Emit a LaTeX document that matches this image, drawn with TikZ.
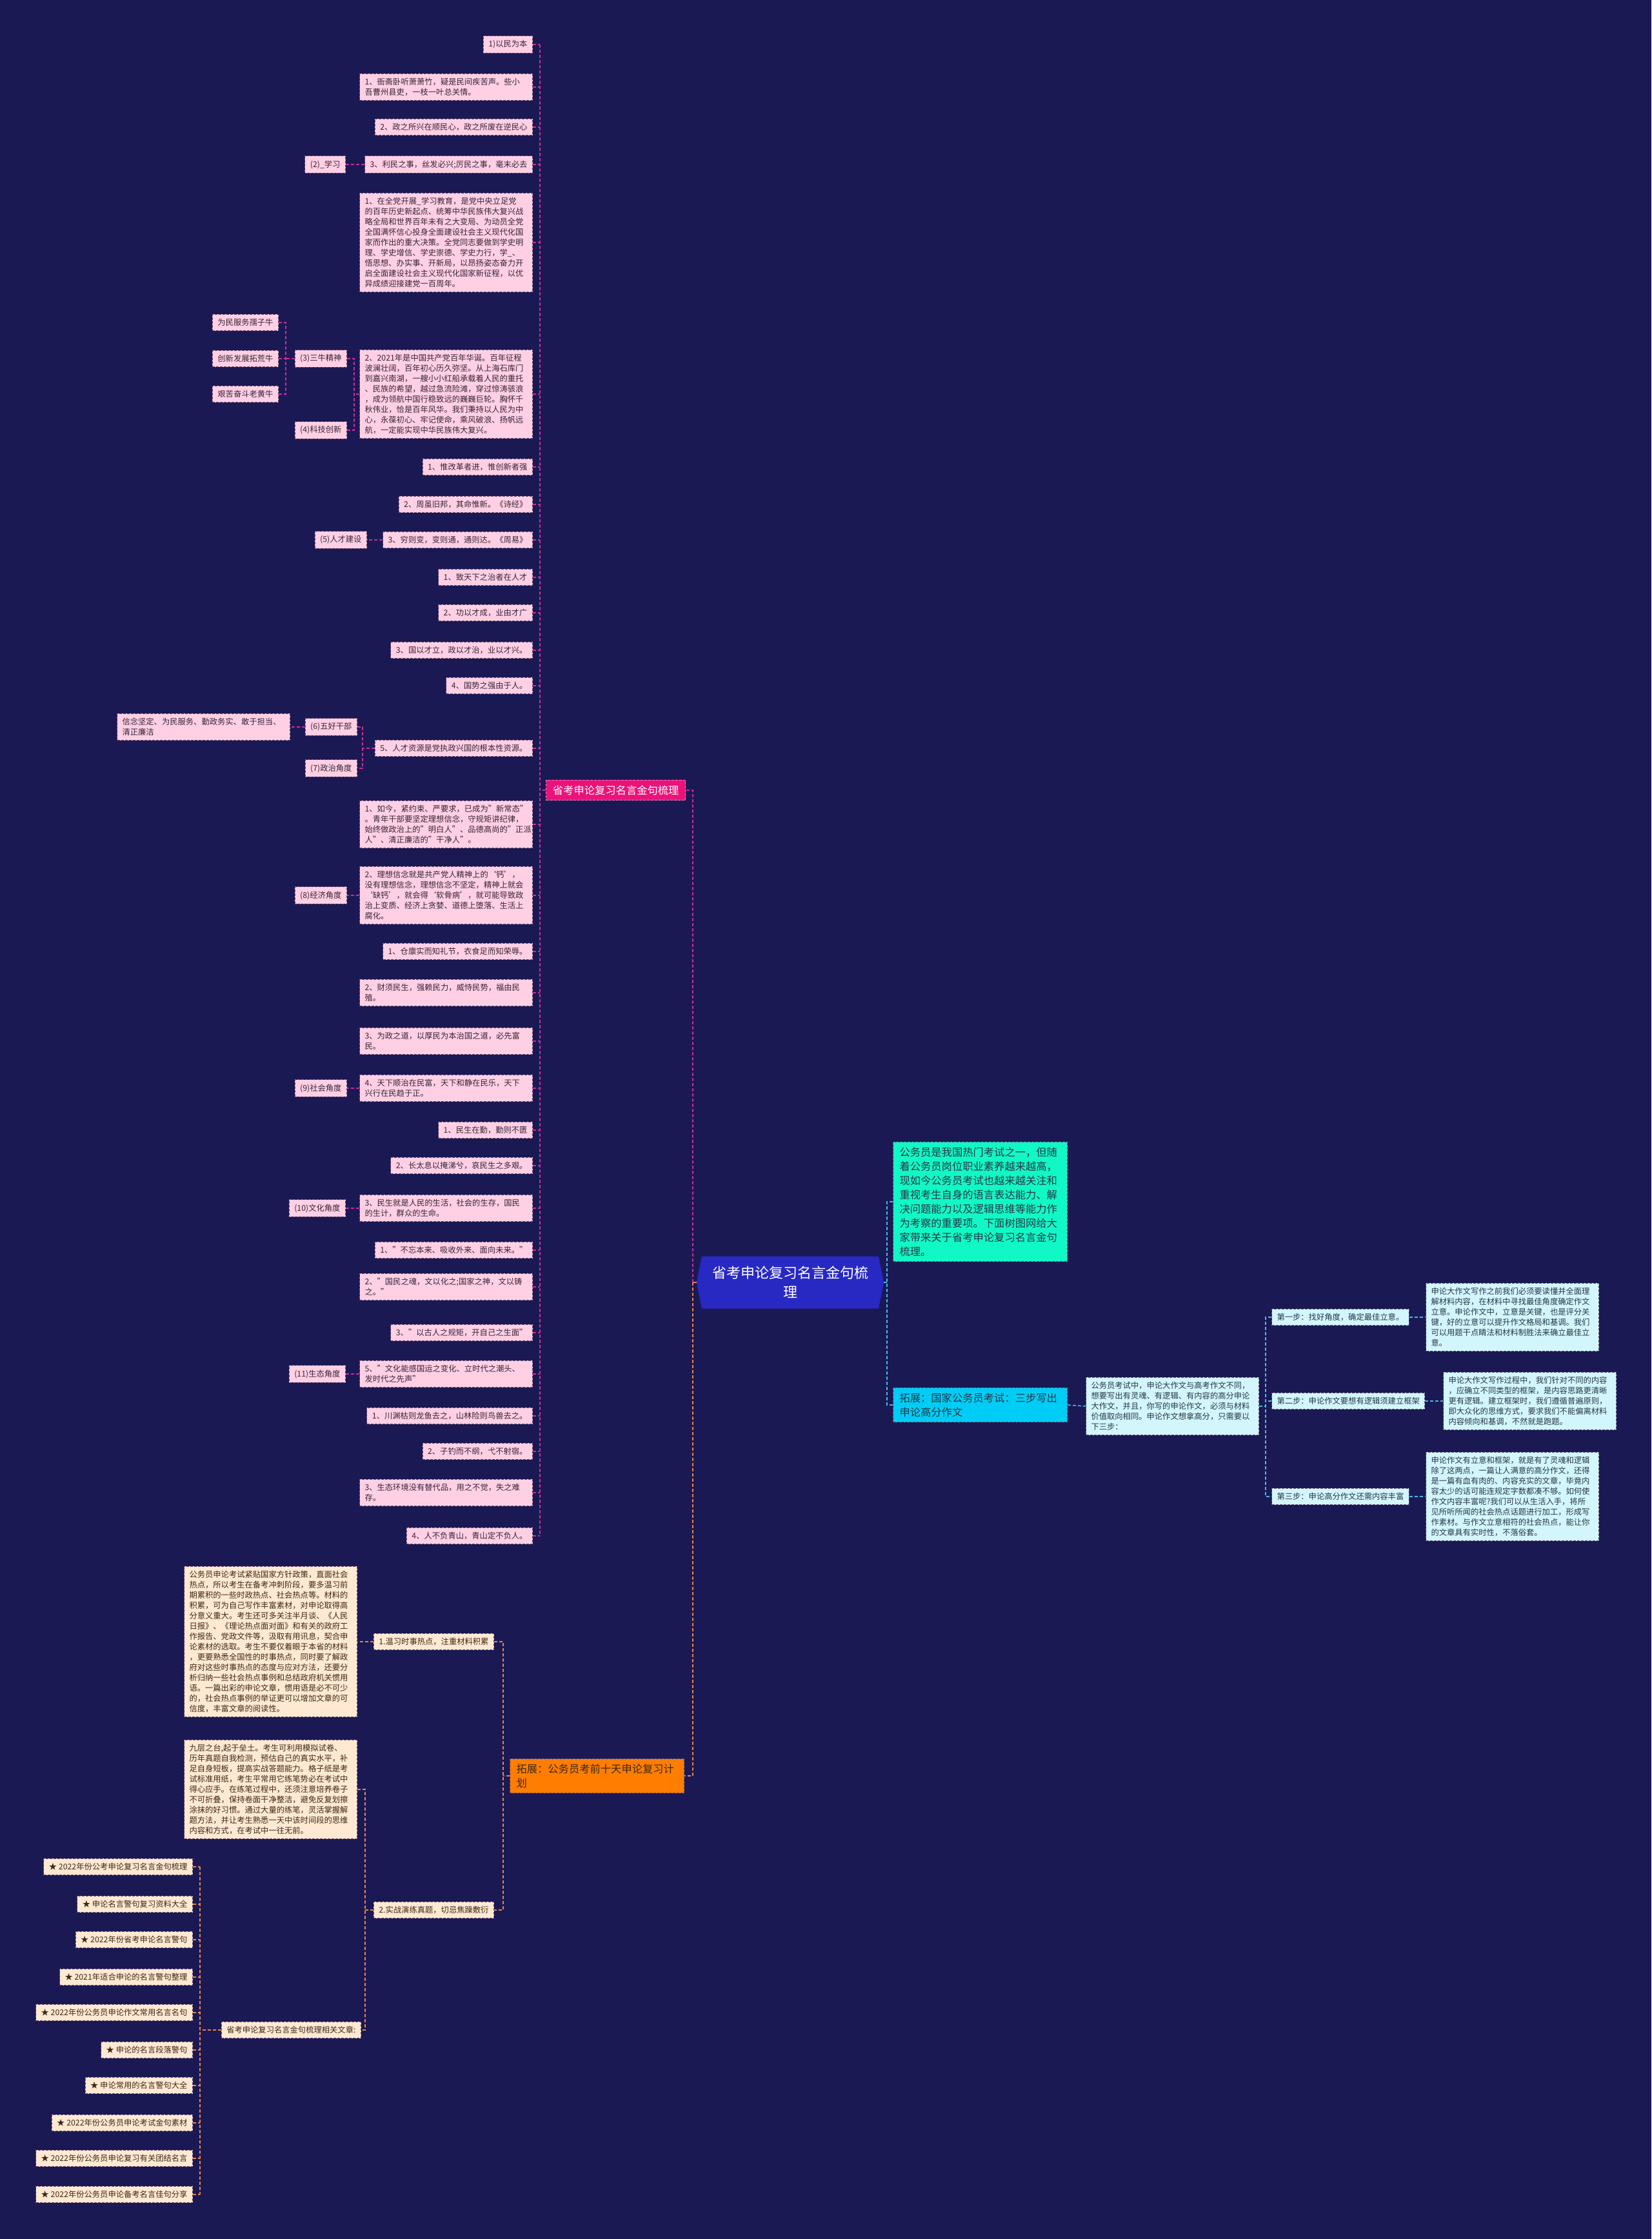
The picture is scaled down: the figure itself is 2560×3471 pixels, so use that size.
\documentclass[tikz,border=0pt]{standalone}
\usepackage{fontspec}
\setmainfont{Noto Sans CJK SC}
\usetikzlibrary{shapes.symbols}

\definecolor{bgc}{RGB}{27,25,84}
\definecolor{pkfill}{RGB}{255,208,228}
\definecolor{pkbd}{RGB}{105,80,115}
\definecolor{pktxt}{RGB}{55,35,55}
\definecolor{pkline}{RGB}{200,45,150}
\definecolor{tpfill}{RGB}{236,18,122}
\definecolor{ctrblue}{RGB}{40,40,195}
\definecolor{grfill}{RGB}{16,248,198}
\definecolor{cyfill}{RGB}{0,205,245}
\definecolor{lcfill}{RGB}{210,246,252}
\definecolor{lctxt}{RGB}{40,55,70}
\definecolor{cyline}{RGB}{70,185,235}
\definecolor{orfill}{RGB}{255,125,0}
\definecolor{orline}{RGB}{235,130,70}
\definecolor{pchfill}{RGB}{255,233,210}
\definecolor{pchtxt}{RGB}{60,40,25}

\begin{document}
\begin{tikzpicture}[x=1pt, y=-1pt,
  bx/.style={dashed, dash pattern=on 4pt off 2pt, line width=1pt, inner xsep=8pt, inner ysep=7pt,
    font=\fontsize{12.3}{16}\selectfont},
  pk/.style={bx, draw=pkbd, fill=pkfill, text=pktxt, anchor=east},
  pkw/.style={pk, text width=252pt, align=left},
  lc/.style={bx, draw=pkbd, fill=lcfill, text=lctxt, anchor=west},
  lcw/.style={lc, text width=252pt, align=left},
  pch/.style={bx, draw=pkbd, fill=pchfill, text=pchtxt, anchor=east},
  pchw/.style={pch, text width=252pt, align=left},
  big/.style={bx, font=\fontsize{16.3}{22}\selectfont, inner xsep=10pt, inner ysep=8pt, align=left},
  ctrn/.style={signal, signal to=west and east, signal pointer angle=157, fill=ctrblue, text=white,
    font=\fontsize{22}{30}\selectfont, align=center, inner xsep=16pt, minimum height=81pt},
  pkln/.style={draw=pkline, line width=1.6pt, dash pattern=on 5pt off 3pt},
  cyln/.style={draw=cyline, line width=1.6pt, dash pattern=on 5pt off 3pt},
  orln/.style={draw=orline, line width=1.6pt, dash pattern=on 5pt off 3pt}]
  \fill[bgc] (0,0) rectangle (2560,3471);
  \useasboundingbox (0,0) rectangle (2560,3471);

  \node[ctrn] (ctr) at (1225,1988) {省考申论复习名言金句梳\\理};

  % left branch
  \node[big, draw=pkline!60, fill=tpfill, text=white, anchor=east] (tp1) at (1063,1225) {省考申论复习名言金句梳理};

  \node[pk]  (n1)  at (826,69)   {1)以民为本};
  \node[pkw] (n2)  at (826,135)  {1、衙斋卧听萧萧竹，疑是民间疾苦声。些小\\吾曹州县吏，一枝一叶总关情。};
  \node[pk]  (n3)  at (826,197)  {2、政之所兴在顺民心，政之所废在逆民心};
  \node[pk]  (n4)  at (826,255)  {3、利民之事，丝发必兴;厉民之事，毫末必去};
  \node[pkw] (n5)  at (826,376)  {1、在全党开展\_学习教育，是党中央立足党\\的百年历史新起点、统筹中华民族伟大复兴战\\略全局和世界百年未有之大变局、为动员全党\\全国满怀信心投身全面建设社会主义现代化国\\家而作出的重大决策。全党同志要做到学史明\\理、学史增信、学史崇德、学史力行，学\_、\\悟思想、办实事、开新局，以昂扬姿态奋力开\\启全面建设社会主义现代化国家新征程，以优\\异成绩迎接建党一百周年。};
  \node[pkw] (n6)  at (826,611)  {2、2021年是中国共产党百年华诞。百年征程\\波澜壮阔，百年初心历久弥坚。从上海石库门\\到嘉兴南湖，一艘小小红船承载着人民的重托\\、民族的希望，越过急流险滩，穿过惊涛骇浪\\，成为领航中国行稳致远的巍巍巨轮。胸怀千\\秋伟业，恰是百年风华。我们秉持以人民为中\\心，永葆初心、牢记使命，乘风破浪、扬帆远\\航，一定能实现中华民族伟大复兴。};
  \node[pk]  (n7)  at (826,724)  {1、惟改革者进，惟创新者强};
  \node[pk]  (n8)  at (826,782)  {2、周虽旧邦，其命惟新。《诗经》};
  \node[pk]  (n9)  at (826,837)  {3、穷则变，变则通，通则达。《周易》};
  \node[pk]  (n10) at (826,895)  {1、致天下之治者在人才};
  \node[pk]  (n11) at (826,950)  {2、功以才成，业由才广};
  \node[pk]  (n12) at (826,1008) {3、国以才立，政以才治，业以才兴。};
  \node[pk]  (n13) at (826,1063) {4、国势之强由于人。};
  \node[pk]  (n14) at (826,1160) {5、人才资源是党执政兴国的根本性资源。};
  \node[pkw] (n15) at (826,1278) {1、如今，紧约束、严要求，已成为"新常态"\\。青年干部要坚定理想信念，守规矩讲纪律，\\始终做政治上的"明白人"、品德高尚的"正派\\人"、清正廉洁的"干净人"。};
  \node[pkw] (n16) at (826,1388) {2、理想信念就是共产党人精神上的‘钙’，\\没有理想信念，理想信念不坚定，精神上就会\\‘缺钙’，就会得‘软骨病’，就可能导致政\\治上变质、经济上贪婪、道德上堕落、生活上\\腐化。};
  \node[pk]  (n17) at (826,1475) {1、仓廪实而知礼节，衣食足而知荣辱。};
  \node[pkw] (n18) at (826,1539) {2、财须民生，强赖民力，威恃民势，福由民\\殖。};
  \node[pkw] (n19) at (826,1614) {3、为政之道，以厚民为本治国之道，必先富\\民。};
  \node[pkw] (n20) at (826,1687) {4、天下顺治在民富，天下和静在民乐，天下\\兴行在民趋于正。};
  \node[pk]  (n21) at (826,1752) {1、民生在勤，勤则不匮};
  \node[pk]  (n22) at (826,1807) {2、长太息以掩涕兮，哀民生之多艰。};
  \node[pkw] (n23) at (826,1873) {3、民生就是人民的生活，社会的生存，国民\\的生计，群众的生命。};
  \node[pk]  (n24) at (826,1938) {1、"不忘本来、吸收外来、面向未来。"};
  \node[pkw] (n25) at (826,1995) {2、"国民之魂，文以化之;国家之神，文以铸\\之。"};
  \node[pk]  (n26) at (826,2066) {3、"以古人之规矩，开自己之生面"};
  \node[pkw] (n27) at (826,2130) {5、"文化能感国运之变化、立时代之潮头、\\发时代之先声"};
  \node[pk]  (n28) at (826,2195) {1、川渊枯则龙鱼去之，山林险则鸟兽去之。};
  \node[pk]  (n29) at (826,2250) {2、子钓而不纲，弋不射宿。};
  \node[pkw] (n30) at (826,2314) {3、生态环境没有替代品，用之不觉，失之难\\存。};
  \node[pk]  (n31) at (826,2381) {4、人不负青山，青山定不负人。};

  \node[pk]  (c2)  at (536,255)  {(2)\_学习};
  \node[pk]  (c3)  at (538,556)  {(3)三牛精神};
  \node[pk]  (c4)  at (538,667)  {(4)科技创新};
  \node[pk]  (w1)  at (432,500)  {为民服务孺子牛};
  \node[pk]  (w2)  at (432,556)  {创新发展拓荒牛};
  \node[pk]  (w3)  at (432,611)  {艰苦奋斗老黄牛};
  \node[pk]  (c5)  at (569,837)  {(5)人才建设};
  \node[pk]  (c6)  at (554,1127) {(6)五好干部};
  \node[pk]  (c7)  at (554,1191) {(7)政治角度};
  \node[pkw] (c6a) at (450,1127) {信念坚定、为民服务、勤政务实、敢于担当、\\清正廉洁};
  \node[pk]  (c8)  at (538,1388) {(8)经济角度};
  \node[pk]  (c9)  at (538,1687) {(9)社会角度};
  \node[pk]  (c10) at (536,1873) {(10)文化角度};
  \node[pk]  (c11) at (536,2130) {(11)生态角度};

  \coordinate (jl) at (1074,0);
  \coordinate (sp) at (837,0);
  \coordinate (b1) at (549,0);
  \coordinate (b2) at (443,0);
  \coordinate (b3) at (562,0);
  \draw[orln, solid] (ctr.west) -- (ctr.west -| jl);
  \draw[pkln] (ctr.west -| jl) |- (tp1.east);
  \draw[pkln] (tp1.west) -- (tp1.west -| sp);
  \draw[pkln] (n1.east -| sp) -- (n31.east -| sp);
  \foreach \n in {n1,n2,n3,n4,n5,n6,n7,n8,n9,n10,n11,n12,n13,n14,n15,n16,
                  n17,n18,n19,n20,n21,n22,n23,n24,n25,n26,n27,n28,n29,n30,n31}
    \draw[pkln] (\n.east) -- (\n.east -| sp);
  \draw[pkln] (n4.west) -- (c2.east);
  \draw[pkln] (n6.west) -- (n6.west -| b1);
  \draw[pkln] (c3.east) -- (c3.east -| b1) -- (c4.east -| b1) -- (c4.east);
  \draw[pkln] (c3.west) -- (c3.west -| b2);
  \draw[pkln] (w1.east) -- (w1.east -| b2) -- (w3.east -| b2) -- (w3.east);
  \draw[pkln] (w2.east) -- (w2.east -| b2);
  \draw[pkln] (n9.west) -- (c5.east);
  \draw[pkln] (n14.west) -- (n14.west -| b3);
  \draw[pkln] (c6.east) -- (c6.east -| b3) -- (c7.east -| b3) -- (c7.east);
  \draw[pkln] (c6.west) -- (c6a.east);
  \draw[pkln] (n16.west) -- (c8.east);
  \draw[pkln] (n20.west) -- (c9.east);
  \draw[pkln] (n23.west) -- (c10.east);
  \draw[pkln] (n27.west) -- (c11.east);

  % right branch
  \node[big, draw=pkbd, fill=grfill, text=lctxt, anchor=west, text width=250pt] (gr) at (1384,1863) {公务员是我国热门考试之一，但随\\着公务员岗位职业素养越来越高，\\现如今公务员考试也越来越关注和\\重视考生自身的语言表达能力、解\\决问题能力以及逻辑思维等能力作\\为考察的重要项。下面树图网给大\\家带来关于省考申论复习名言金句\\梳理。};
  \node[big, draw=pkbd, fill=cyfill, text=lctxt, anchor=west, text width=250pt] (tp2) at (1384,2178) {拓展：国家公务员考试：三步写出\\申论高分作文};
  \node[lcw] (intro) at (1683,2180) {公务员考试中，申论大作文与高考作文不同，\\想要写出有灵魂、有逻辑、有内容的高分申论\\大作文，并且，你写的申论作文，必须与材料\\价值取向相同。申论作文想拿高分，只需要以\\下三步：};
  \node[lc]  (s1) at (1971,2042) {第一步：找好角度，确定最佳立意。};
  \node[lc]  (s2) at (1971,2172) {第二步：申论作文要想有逻辑须建立框架};
  \node[lc]  (s3) at (1971,2320) {第三步：申论高分作文还需内容丰富};
  \node[lcw] (d1) at (2210,2042) {申论大作文写作之前我们必须要读懂并全面理\\解材料内容，在材料中寻找最佳角度确定作文\\立意。申论作文中，立意是关键，也是评分关\\键，好的立意可以提升作文格局和基调。我们\\可以用题干点睛法和材料制胜法来确立最佳立\\意。};
  \node[lcw] (d2) at (2237,2172) {申论大作文写作过程中，我们针对不同的内容\\，应确立不同类型的框架，是内容思路更清晰\\更有逻辑。建立框架时，我们遵循普遍原则，\\即大众化的思维方式，要求我们不能偏离材料\\内容倾向和基调，不然就是跑题。};
  \node[lcw] (d3) at (2210,2320) {申论作文有立意和框架，就是有了灵魂和逻辑\\除了这两点，一篇让人满意的高分作文，还得\\是一篇有血有肉的、内容充实的文章，毕竟内\\容太少的话可能连规定字数都凑不够。如何使\\作文内容丰富呢?我们可以从生活入手，将所\\见所听所闻的社会热点话题进行加工，形成写\\作素材。与作文立意相符的社会热点，能让你\\的文章具有实时性，不落俗套。};

  \coordinate (jr) at (1375,0);
  \coordinate (js) at (1962,0);
  \draw[cyln] (ctr.east) -- (ctr.east -| jr);
  \draw[cyln] (gr.west) -- (gr.west -| jr) -- (tp2.west -| jr) -- (tp2.west);
  \draw[cyln] (tp2.east) -- (intro.west);
  \draw[cyln] (intro.east) -- (intro.east -| js);
  \draw[cyln] (s1.west) -- (s1.west -| js) -- (s3.west -| js) -- (s3.west);
  \draw[cyln] (s2.west) -- (s2.west -| js);
  \draw[cyln] (s1.east) -- (d1.west);
  \draw[cyln] (s2.east) -- (d2.west);
  \draw[cyln] (s3.east) -- (d3.west);

  % bottom branch
  \node[big, draw=pkbd, fill=orfill, text=pchtxt, anchor=west, text width=250pt] (tp3) at (790,2753) {拓展：公务员考前十天申论复习计\\划};
  \node[pch]  (p1)   at (766,2545) {1.温习时事热点，注重材料积累};
  \node[pchw] (big1) at (554,2545) {公务员申论考试紧贴国家方针政策，直面社会\\热点，所以考生在备考冲刺阶段，要多温习前\\期累积的一些时政热点、社会热点等。材料的\\积累，可为自己写作丰富素材，对申论取得高\\分意义重大。考生还可多关注半月谈、《人民\\日报》、《理论热点面对面》和有关的政府工\\作报告、党政文件等，汲取有用讯息，契合申\\论素材的选取。考生不要仅着眼于本省的材料\\，更要熟悉全国性的时事热点，同时要了解政\\府对这些时事热点的态度与应对方法，还要分\\析归纳一些社会热点事例和总结政府机关惯用\\语。一篇出彩的申论文章，惯用语是必不可少\\的，社会热点事例的举证更可以增加文章的可\\信度，丰富文章的阅读性。};
  \node[pch]  (p2)   at (766,2961) {2.实战演练真题，切忌焦躁敷衍};
  \node[pchw] (jz)   at (554,2774) {九层之台,起于垒土。考生可利用模拟试卷、\\历年真题自我检测，预估自己的真实水平，补\\足自身短板，提高实战答题能力。格子纸是考\\试标准用纸，考生平常用它练笔势必在考试中\\得心应手。在练笔过程中，还须注意培养卷子\\不可折叠，保持卷面干净整洁，避免反复划擦\\涂抹的好习惯。通过大量的练笔，灵活掌握解\\题方法，并让考生熟悉一天中该时间段的思维\\内容和方式，在考试中一往无前。};
  \node[pch]  (xg)   at (560,3147) {省考申论复习名言金句梳理相关文章:};
  \node[pch]  (st1)  at (299,2894) {★ 2022年份公考申论复习名言金句梳理};
  \node[pch]  (st2)  at (299,2952) {★ 申论名言警句复习资料大全};
  \node[pch]  (st3)  at (299,3007) {★ 2022年份省考申论名言警句};
  \node[pch]  (st4)  at (299,3065) {★ 2021年适合申论的名言警句整理};
  \node[pch]  (st5)  at (299,3120) {★ 2022年份公务员申论作文常用名言名句};
  \node[pch]  (st6)  at (299,3178) {★ 申论的名言段落警句};
  \node[pch]  (st7)  at (299,3233) {★ 申论常用的名言警句大全};
  \node[pch]  (st8)  at (299,3291) {★ 2022年份公务员申论考试金句素材};
  \node[pch]  (st9)  at (299,3346) {★ 2022年份公务员申论复习有关团结名言};
  \node[pch]  (st10) at (299,3402) {★ 2022年份公务员申论备考名言佳句分享};

  \coordinate (bo) at (780,0);
  \coordinate (b4) at (566,0);
  \coordinate (b5) at (310,0);
  \draw[orln] (ctr.west -| jl) |- (tp3.east);
  \draw[orln] (tp3.west) -- (tp3.west -| bo);
  \draw[orln] (p1.east) -- (p1.east -| bo) -- (p2.east -| bo) -- (p2.east);
  \draw[orln] (p1.west) -- (big1.east);
  \draw[orln] (p2.west) -- (p2.west -| b4);
  \draw[orln] (jz.east) -- (jz.east -| b4) -- (xg.east -| b4) -- (xg.east);
  \draw[orln] (xg.west) -- (xg.west -| b5);
  \draw[orln] (st1.east -| b5) -- (st10.east -| b5);
  \foreach \s in {st1,st2,st3,st4,st5,st6,st7,st8,st9,st10}
    \draw[orln] (\s.east) -- (\s.east -| b5);
\end{tikzpicture}
\end{document}
